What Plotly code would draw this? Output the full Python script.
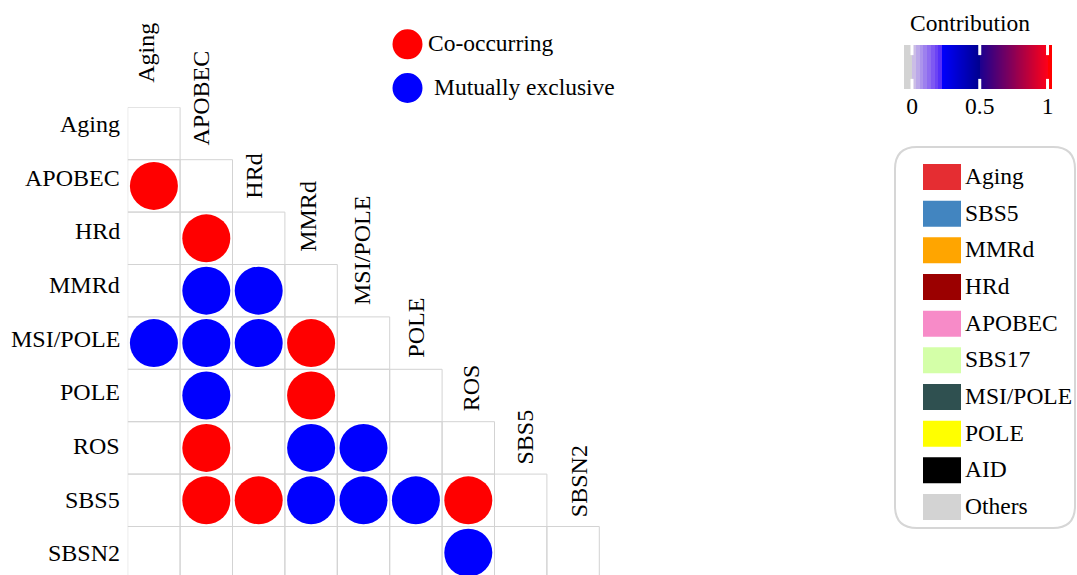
import numpy as np
import plotly.graph_objects as go

# ---------------- data ----------------
signatures = ["Aging", "APOBEC", "HRd", "MMRd", "MSI/POLE", "POLE", "ROS", "SBS5", "SBSN2"]

co_row = ["APOBEC", "HRd", "MSI/POLE", "POLE", "ROS", "SBS5", "SBS5", "SBS5"]
co_col = ["Aging", "APOBEC", "MMRd", "MMRd", "APOBEC", "APOBEC", "HRd", "ROS"]

mx_row = ["MMRd", "MMRd", "MSI/POLE", "MSI/POLE", "MSI/POLE", "POLE", "ROS", "ROS",
          "SBS5", "SBS5", "SBS5", "SBSN2"]
mx_col = ["APOBEC", "HRd", "Aging", "APOBEC", "HRd", "APOBEC", "MMRd", "MSI/POLE",
          "MMRd", "MSI/POLE", "POLE", "ROS"]

legend_names = ["Aging", "SBS5", "MMRd", "HRd", "APOBEC", "SBS17", "MSI/POLE", "POLE", "AID", "Others"]
legend_colors = ["#e52d32", "#4285c0", "#ffa500", "#9b0000", "#f78bc8", "#d4ffa8",
                 "#2f5050", "#ffff00", "#000000", "#d3d3d3"]

contrib_ticks = [0, 0.5, 1]
contrib_ticktext = ["0", "0.5", "1"]

# ---------------- layout constants ----------------
W, H = 1077, 575
CELL = 52.4
X0, Y0 = 127.7, 107.3
FONT = '"Liberation Serif", "Times New Roman", Times, "DejaVu Serif", serif'
GRID = "#d3d3d3"
RED, BLUE = "#ff0000", "#0000ff"


def px(x):
    return x / W


def py(y):
    return 1 - y / H


idx = {s: i for i, s in enumerate(signatures)}

fig = go.Figure()

fig.add_trace(go.Scatter(
    x=[idx[c] + 0.5 for c in co_col], y=[idx[r] + 0.5 for r in co_row],
    mode="markers", marker=dict(size=48, color=RED, line=dict(width=0)),
    name="Co-occurring", showlegend=False, hoverinfo="skip"))
fig.add_trace(go.Scatter(
    x=[idx[c] + 0.5 for c in mx_col], y=[idx[r] + 0.5 for r in mx_row],
    mode="markers", marker=dict(size=48, color=BLUE, line=dict(width=0)),
    name="Mutually exclusive", showlegend=False, hoverinfo="skip"))

shapes = []
annotations = []

# grid cells (lower triangle incl. diagonal)
for r in range(len(signatures)):
    for c in range(r + 1):
        shapes.append(dict(type="rect", xref="x", yref="y", x0=c, x1=c + 1, y0=r, y1=r + 1,
                           line=dict(color=GRID, width=1), fillcolor="rgba(0,0,0,0)", layer="below"))

# row labels (left) and column labels (rotated, along the diagonal)
for i, s in enumerate(signatures):
    annotations.append(dict(x=px(122), y=py(124 + 53.67 * i), xref="paper", yref="paper", text=s,
                            showarrow=False, xanchor="right", yanchor="middle",
                            font=dict(family=FONT, size=24, color="black")))
    bottom = 83.3 if i == 0 else 92.3 + 53.17 * i
    annotations.append(dict(x=px(146.5 + 54 * i), y=py(bottom + 2), xref="paper", yref="paper",
                            text=s, showarrow=False, textangle=-90,
                            xanchor="center", yanchor="bottom",
                            font=dict(family=FONT, size=24, color="black")))

# circle legend
for (label, color, cy, tx) in [("Co-occurring", RED, 44.3, 426), ("Mutually exclusive", BLUE, 88, 432)]:
    shapes.append(dict(type="circle", xref="paper", yref="paper",
                       x0=px(392.5), x1=px(422.5), y0=py(cy - 15), y1=py(cy + 15),
                       fillcolor=color, line=dict(width=0)))
    annotations.append(dict(x=px(tx), y=py(cy - 1), xref="paper", yref="paper", text=label,
                            showarrow=False, xanchor="left", yanchor="middle",
                            font=dict(family=FONT, size=23.5, color="black")))

# colour legend box
shapes.append(dict(type="path", xref="paper", yref="paper",
                   path=("M {a},{t} L {b},{t} Q {r},{t} {r},{t2} L {r},{bo2} Q {r},{bo} {b},{bo} "
                         "L {a},{bo} Q {l},{bo} {l},{bo2} L {l},{t2} Q {l},{t} {a},{t} Z").format(
                       l=px(895), r=px(1075), a=px(917), b=px(1053),
                       t=py(147), t2=py(169), bo=py(528), bo2=py(506)),
                   line=dict(color="#d6d6d6", width=2), fillcolor="rgba(0,0,0,0)"))
step = (494 - 164) / 9
for k, (name, col) in enumerate(zip(legend_names, legend_colors)):
    top = 164 + k * step
    shapes.append(dict(type="rect", xref="paper", yref="paper", x0=px(923), x1=px(961),
                       y0=py(top + 26), y1=py(top), fillcolor=col, line=dict(width=0)))
    annotations.append(dict(x=px(963), y=py(top + 12), xref="paper", yref="paper", text=name,
                            showarrow=False, xanchor="left", yanchor="middle",
                            font=dict(family=FONT, size=23.5, color="black")))

# ---------------- contribution colour bar ----------------
CB_MIN, CB_MAX = -0.059, 1.033
lav = ["#cbbde6", "#bba8e9", "#ac94ec", "#9d80ee", "#8e6cf0", "#7e58f2", "#6c44f5", "#5630f8"]
stops = [(CB_MIN, "#d3d3d3"), (-0.002, "#d3d3d3")]
lav_w = 0.219 / len(lav)
for k, c in enumerate(lav):
    stops += [(k * lav_w - 0.002 if k == 0 else k * lav_w, c), ((k + 1) * lav_w, c)]
stops += [(0.219, "#0000ff"), (0.5, "#00008e"), (0.5, "#1c0090"), (1.0, "#ff0018"),
          (1.0, "#ff0000"), (CB_MAX, "#ff0000")]
cscale = [[(v - CB_MIN) / (CB_MAX - CB_MIN), c] for v, c in stops]
cscale[0][0] = 0.0
cscale[-1][0] = 1.0
cb_x = np.linspace(CB_MIN, CB_MAX, 300)
fig.add_trace(go.Heatmap(x=cb_x, y=[0], z=[cb_x], zmin=CB_MIN, zmax=CB_MAX, colorscale=cscale,
                         showscale=False, xaxis="x2", yaxis="y2", hoverinfo="skip", zsmooth=False))
for v in contrib_ticks:
    for (a, b) in [(0.0, 0.23), (0.77, 1.0)]:
        shapes.append(dict(type="line", xref="x2", yref="y2 domain", x0=v, x1=v, y0=a, y1=b,
                           line=dict(color="white", width=3), layer="above"))
annotations.append(dict(x=px(970), y=py(23), xref="paper", yref="paper", text="Contribution",
                        showarrow=False, xanchor="center", yanchor="middle",
                        font=dict(family=FONT, size=23.5, color="black")))

fig.update_layout(
    width=W, height=H, autosize=False,
    margin=dict(l=0, r=0, t=0, b=0, pad=0),
    paper_bgcolor="white", plot_bgcolor="white",
    font=dict(family=FONT, size=24, color="black"),
    showlegend=False,
    xaxis=dict(domain=[px(X0), 1], range=[0, (W - X0) / CELL], showgrid=False, zeroline=False,
               showticklabels=False, showline=False, ticks="", fixedrange=True),
    yaxis=dict(domain=[0, py(Y0)], range=[(H - Y0) / CELL, 0], showgrid=False, zeroline=False,
               showline=False, ticks="", showticklabels=False, fixedrange=True),
    xaxis2=dict(domain=[px(904), px(1052)], range=[CB_MIN, CB_MAX], anchor="y2",
                showgrid=False, zeroline=False, showline=False, ticks="",
                tickmode="array", tickvals=contrib_ticks, ticktext=contrib_ticktext,
                tickfont=dict(family=FONT, size=23.5, color="black"), fixedrange=True),
    yaxis2=dict(domain=[py(89), py(45)], anchor="x2", visible=False, range=[-0.5, 0.5],
                fixedrange=True),
    shapes=shapes, annotations=annotations,
)

fig.write_html("out.html")
